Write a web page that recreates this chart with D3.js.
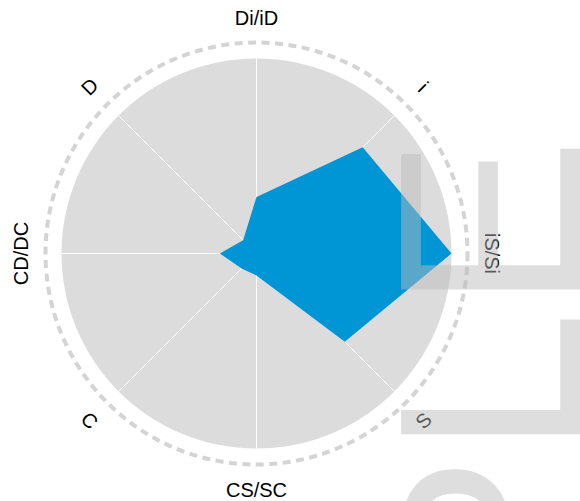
<!DOCTYPE html>
<html>
<head>
<meta charset="utf-8">
<script src="https://cdn.jsdelivr.net/npm/d3@7"></script>
<style>
  body { margin: 0; background: #fff; }
  svg { display: block; }
</style>
</head>
<body>
<div id="chart"></div>
<script>
const width = 580
const height = 501
const cx = 256.5, cy = 253.5
const radius = 195

// axes clockwise from the top
const labels = ["Di/iD", "i", "iS/Si", "S", "CS/SC", "C", "CD/DC", "D"]
const values = [0.29, 0.77, 1.0, 0.64, 0.113, 0.108, 0.188, 0.097]
const watermark = "SAMPLE"

const angle = d3.scaleLinear()
  .domain([0, labels.length])
  .range([0, 2 * Math.PI])

const r = d3.scaleLinear()
  .domain([0, 1])
  .range([0, radius])

const svg = d3.select("#chart")
  .append("svg")
  .attr("width", width)
  .attr("height", height)

const g = svg.append("g")
  .attr("transform", "translate(" + cx + "," + cy + ")")

// grey disc
g.append("circle")
  .attr("r", r(1))
  .attr("fill", "#dcdcdc")

// spokes
g.selectAll(".spoke")
  .data(labels)
  .enter().append("line")
  .attr("class", "spoke")
  .attr("x1", 0).attr("y1", 0)
  .attr("x2", (d, i) => r(1) * Math.sin(angle(i)))
  .attr("y2", (d, i) => -r(1) * Math.cos(angle(i)))
  .attr("stroke", "#fff")
  .attr("stroke-width", 1)

// profile shape
g.append("path")
  .datum(values)
  .attr("fill", "#0096d6")
  .attr("d", d3.lineRadial()
    .angle((d, i) => angle(i))
    .radius(d => r(d))
    .curve(d3.curveLinearClosed))

// dashed outer ring
g.append("circle")
  .attr("r", 211)
  .attr("fill", "none")
  .attr("stroke", "#d4d4d4")
  .attr("stroke-width", 4)
  .attr("stroke-dasharray", "8,5.5")

// labels, turned so bottom ones stay readable
g.selectAll(".label")
  .data(labels)
  .enter().append("text")
  .attr("class", "label")
  .attr("transform", (d, i) => {
    let a = angle(i) * 180 / Math.PI
    let px = 236 * Math.sin(angle(i))
    let py = -236 * Math.cos(angle(i))
    let rot = (a > 90 && a < 270) ? a - 180 : a
    return "translate(" + px + "," + py + ") rotate(" + rot + ")"
  })
  .attr("text-anchor", "middle")
  .attr("dy", "0.36em")
  .style("font", "20px 'Liberation Sans', Arial, sans-serif")
  .style("fill", "#000")
  .text(d => d)

// watermark on top
svg.append("text")
  .attr("transform", "translate(580,137.5) rotate(-90)")
  .attr("text-anchor", "end")
  .style("font", "260px 'Liberation Sans', Arial, sans-serif")
  .style("fill", "#bbbbbb")
  .style("opacity", 0.48)
  .text(watermark)
</script>
</body>
</html>
